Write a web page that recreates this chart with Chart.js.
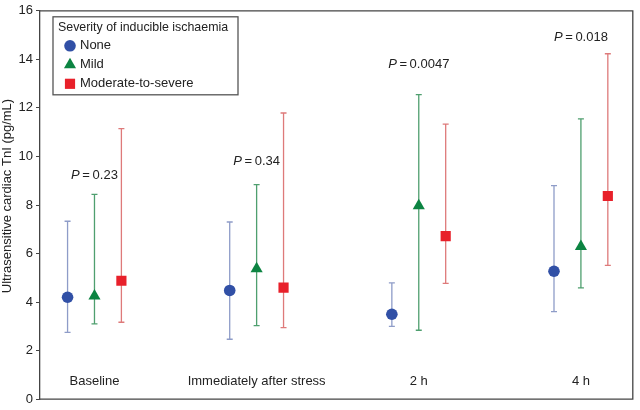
<!DOCTYPE html>
<html>
<head>
<meta charset="utf-8">
<script src="https://cdn.jsdelivr.net/npm/chart.js@4/dist/chart.umd.min.js"></script>
<style>
  html, body { margin: 0; padding: 0; background: #fff; }
  #wrap { width: 640px; height: 410px; }
</style>
</head>
<body>
<div id="wrap"><canvas id="tniChart"></canvas></div>
<script>
// data
const categories = ['Baseline', 'Immediately after stress', '2 h', '4 h'];
const seriesNames = ['None', 'Mild', 'Moderate-to-severe'];

const noneMean = [4.2, 4.48, 3.5, 5.27];
const noneLow = [2.75, 2.47, 3.0, 3.61];
const noneHigh = [7.33, 7.3, 4.79, 8.8];

const mildMean = [4.25, 5.37, 7.97, 6.29];
const mildLow = [3.1, 3.03, 2.84, 4.59];
const mildHigh = [8.44, 8.84, 12.55, 11.55];

const modMean = [4.88, 4.6, 6.72, 8.37];
const modLow = [3.17, 2.95, 4.77, 5.51];
const modHigh = [11.15, 11.79, 11.33, 14.23];

const pValues = ['0.23', '0.34', '0.0047', '0.018'];
const pLabelY = [9.2, 9.8, 13.8, 14.92];
const categoryLabelY = 0.72;
const yTicks = [0, 2, 4, 6, 8, 10, 12, 14, 16];
const yTitle = 'Ultrasensitive cardiac TnI (pg/mL)';

const offsets = [-0.166, 0, 0.166];
const font = '"Liberation Sans", Arial, sans-serif';

function makePoints(means, k) {
  return means.map((v, i) => ({ x: i + offsets[k], y: v }));
}

const series = [
  { mean: noneMean, low: noneLow, high: noneHigh, color: '#3150a6', bar: '#8e9cc8', style: 'circle', r: 5.8 },
  { mean: mildMean, low: mildLow, high: mildHigh, color: '#0c8442', bar: '#4f9f6f', style: 'triangle', r: 7 },
  { mean: modMean, low: modLow, high: modHigh, color: '#e8202a', bar: '#de7a7a', style: 'rect', r: 7.2 }
];

// error bars behind the markers
const errorBars = {
  id: 'errorBars',
  beforeDatasetsDraw(chart) {
    const { ctx, scales: { x, y } } = chart;
    ctx.save();
    ctx.lineWidth = 1.3;
    series.forEach((s, k) => {
      ctx.strokeStyle = s.bar;
      s.mean.forEach((m, i) => {
        const px = x.getPixelForValue(i + offsets[k]);
        const top = y.getPixelForValue(s.high[i]);
        const bot = y.getPixelForValue(s.low[i]);
        ctx.beginPath();
        ctx.moveTo(px, top); ctx.lineTo(px, bot);
        ctx.moveTo(px - 3, top); ctx.lineTo(px + 3, top);
        ctx.moveTo(px - 3, bot); ctx.lineTo(px + 3, bot);
        ctx.stroke();
      });
    });
    ctx.restore();
  }
};

// frame, axis title, category names, P values and legend box
const annotations = {
  id: 'annotations',
  afterDraw(chart) {
    const { ctx, chartArea: a, scales: { x, y } } = chart;
    ctx.save();
    ctx.strokeStyle = '#444';
    ctx.lineWidth = 1.3;
    ctx.beginPath();
    ctx.moveTo(a.left, a.top); ctx.lineTo(a.right, a.top);
    ctx.lineTo(a.right, a.bottom); ctx.lineTo(a.left, a.bottom);
    ctx.stroke();

    ctx.fillStyle = '#222';
    ctx.textBaseline = 'middle';
    ctx.textAlign = 'center';
    ctx.font = '13px ' + font;

    ctx.save();
    ctx.translate(7, 196);
    ctx.rotate(-Math.PI / 2);
    ctx.fillText(yTitle, 0, 0);
    ctx.restore();

    categories.forEach((c, i) => {
      ctx.fillText(c, x.getPixelForValue(i), y.getPixelForValue(categoryLabelY));
    });

    pValues.forEach((p, i) => {
      const cx = x.getPixelForValue(i);
      const cy = y.getPixelForValue(pLabelY[i]);
      ctx.font = 'italic 13px ' + font;
      const wP = ctx.measureText('P').width;
      ctx.font = '13px ' + font;
      const rest = '\u2009=\u2009' + p;
      const wR = ctx.measureText(rest).width;
      const sx = cx - (wP + wR) / 2;
      ctx.textAlign = 'left';
      ctx.font = 'italic 13px ' + font;
      ctx.fillText('P', sx, cy);
      ctx.font = '13px ' + font;
      ctx.fillText(rest, sx + wP, cy);
    });

    // legend
    const bx = a.left + 13, by = a.top + 6, bw = 185, bh = 78;
    ctx.fillStyle = '#fff';
    ctx.fillRect(bx, by, bw, bh);
    ctx.strokeStyle = '#555';
    ctx.strokeRect(bx, by, bw, bh);
    ctx.fillStyle = '#222';
    ctx.textAlign = 'left';
    ctx.font = '12.4px ' + font;
    ctx.fillText('Severity of inducible ischaemia', bx + 5, by + 11);
    ctx.font = '13px ' + font;
    series.forEach((s, k) => {
      const iy = by + 29 + k * 19;
      ctx.fillStyle = s.color;
      ctx.strokeStyle = s.color;
      Chart.helpers.drawPoint(ctx, { pointStyle: s.style, radius: s.r, rotation: 0, borderWidth: 0 }, bx + 17, iy);
      ctx.fillStyle = '#222';
      ctx.fillText(chart.data.datasets[k].label, bx + 27, iy);
    });
    ctx.restore();
  }
};

const ctx = document.getElementById('tniChart').getContext('2d');
const tniChart = new Chart(ctx, {
  type: 'scatter',
  data: {
    datasets: series.map((s, k) => ({
      label: seriesNames[k],
      data: makePoints(s.mean, k),
      pointStyle: s.style,
      pointRadius: s.r,
      pointHoverRadius: s.r,
      backgroundColor: s.color,
      borderColor: s.color,
      borderWidth: 0
    }))
  },
  options: {
    responsive: true,
    maintainAspectRatio: false,
    animation: false,
    layout: { padding: { top: 6, right: 2, bottom: 4, left: 0 } },
    plugins: { legend: { display: false }, tooltip: { enabled: false } },
    scales: {
      x: { type: 'linear', display: false, min: -0.336, max: 3.32 },
      y: {
        min: 0,
        max: 16,
        afterFit(scale) { scale.width = 40; },
        afterBuildTicks(scale) { scale.ticks = yTicks.map(v => ({ value: v })); },
        border: { color: '#444', width: 1.3 },
        grid: { drawOnChartArea: false, tickLength: 4, color: '#444' },
        ticks: { color: '#222', padding: 3, font: { family: font, size: 13 } },
        title: { display: false }
      }
    }
  },
  plugins: [errorBars, annotations]
});
</script>
</body>
</html>
